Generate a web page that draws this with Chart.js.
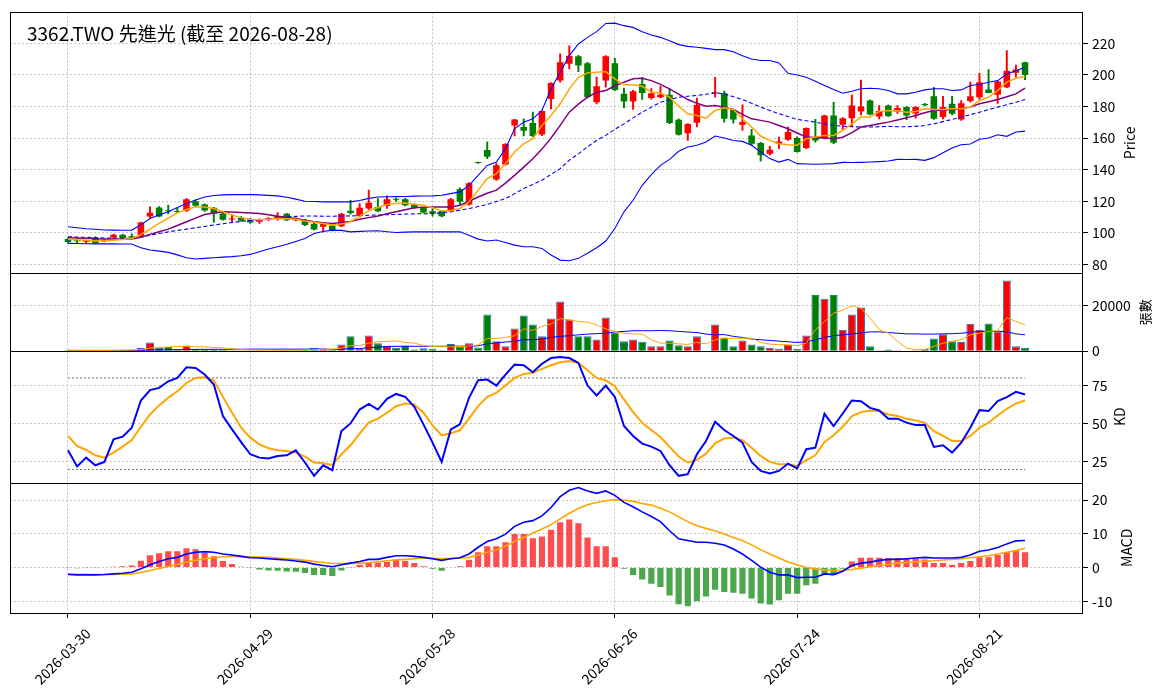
<!DOCTYPE html>
<html>
<head>
<meta charset="utf-8">
<title>3362.TWO 先進光</title>
<script src="https://cdn.jsdelivr.net/npm/chart.js@4.4.1/dist/chart.umd.min.js"></script>
<style>
  html, body { margin: 0; padding: 0; background: #fff; }
  #box { width: 1164px; height: 698px; }
</style>
</head>
<body>
<div id="box"><canvas id="kchart" width="1164" height="698"></canvas></div>
<script>
const titleText = '3362.TWO 先進光 (截至 2026-08-28)';

// trading days from 2026-03-30, skipping weekends and market holidays
const holidays = ['2026-04-03', '2026-04-06', '2026-05-01', '2026-06-19'];
const dates = [];
for (let d = new Date(Date.UTC(2026, 2, 30)); dates.length < 106; d.setUTCDate(d.getUTCDate() + 1)) {
  const s = d.toISOString().slice(0, 10);
  if (d.getUTCDay() !== 0 && d.getUTCDay() !== 6 && !holidays.includes(s)) dates.push(s);
}
const tickIdx = [0, 20, 40, 60, 80, 100];

const open = [
  96.0, 95.3, 94.3, 97.0, 94.8, 97.0, 98.7, 97.8, 97.7, 110.3,
  116.0, 114.0, 113.8, 113.9, 120.0, 117.9, 115.8, 112.2, 108.4, 109.5,
  108.6, 107.0, 108.5, 109.0, 112.0, 108.0, 108.2, 105.7, 103.8, 104.6,
  104.2, 113.9, 110.7, 115.4, 116.4, 117.0, 121.4, 121.3, 117.9, 115.8,
  113.7, 113.7, 113.7, 127.6, 117.9, 144.5, 152.4, 133.7, 143.2, 168.0,
  167.0, 169.5, 162.3, 184.8, 196.4, 207.0, 211.8, 207.4, 182.7, 196.4,
  207.4, 188.0, 183.2, 194.3, 185.3, 185.9, 187.4, 171.6, 163.0, 169.7,
  null, 188.2, 188.4, 177.9, 168.4, 161.7, 156.8, 150.1, 156.4, 158.9,
  160.0, 153.7, 160.6, 159.9, 174.3, 168.4, 172.6, 176.8, 183.8, 173.7,
  180.6, 176.8, 179.6, 175.5, 181.3, 186.5, 173.3, 181.7, 171.8, 183.4,
  185.9, 190.7, 187.4, 192.2, 201.4, 208.0
];
const high = [
  96.8, 96.2, 95.4, 97.4, 95.6, 99.2, 99.0, 99.3, 106.8, 116.5,
  116.6, 117.5, 115.5, 121.6, 120.8, 118.4, 116.2, 112.6, 111.6, 110.2,
  109.2, 108.8, 109.6, 112.8, 112.4, 109.5, 108.6, 106.0, 106.2, 105.0,
  112.3, 120.6, 118.5, 127.0, 121.7, 123.4, 122.0, 121.8, 118.3, 116.2,
  115.4, 114.2, 121.8, 128.4, 131.8, 144.8, 157.6, 144.0, 156.5, 171.9,
  172.2, 176.4, 177.3, 195.1, 213.3, 218.5, 212.4, 208.0, 198.6, 212.2,
  210.5, 191.6, 190.3, 198.5, 191.4, 193.0, 191.2, 172.2, 169.2, 185.3,
  null, 198.5, 189.7, 178.3, 181.0, 165.5, 157.3, 154.7, 160.6, 167.0,
  160.8, 166.5, 171.8, 174.6, 182.7, 173.0, 187.4, 196.8, 184.2, 180.6,
  181.0, 180.6, 180.0, 180.0, 182.0, 192.2, 186.5, 186.5, 183.8, 195.4,
  201.0, 203.4, 196.2, 215.4, 206.3, 208.2
];
const low = [
  93.6, 93.8, 93.6, 93.2, 94.2, 96.6, 96.4, 96.2, 97.5, 109.4,
  110.0, 112.0, 112.6, 113.5, 116.8, 113.6, 106.5, 108.0, 106.8, 107.2,
  106.0, 106.0, 107.6, 108.0, 107.6, 107.5, 104.5, 101.8, 100.6, 101.2,
  103.8, 111.8, 110.0, 114.8, 113.3, 115.4, 119.8, 117.0, 115.4, 112.6,
  110.5, 110.1, 113.2, 118.0, 117.5, 144.0, 147.0, 133.2, 142.8, 161.3,
  161.3, 160.8, 161.5, 178.5, 195.4, 203.8, 202.1, 185.4, 181.6, 192.2,
  190.1, 179.2, 178.1, 184.4, 184.6, 185.5, 169.1, 161.9, 158.5, 167.0,
  null, 185.9, 170.1, 169.5, 164.8, 155.4, 145.3, 149.1, 153.3, 158.5,
  151.0, 153.3, 157.4, 159.5, 156.4, 165.5, 167.2, 174.7, 174.6, 172.2,
  173.5, 175.6, 171.6, 172.6, 180.4, 171.8, 172.2, 174.7, 171.2, 182.7,
  184.4, 188.6, 182.0, 192.0, 198.5, 197.0
];
const close = [
  94.1, 94.6, 94.9, 93.4, 95.2, 98.7, 96.6, 96.9, 106.5, 112.7,
  110.3, 113.7, 113.2, 121.3, 117.1, 114.1, 112.2, 108.2, 109.0, 107.6,
  106.5, 108.2, 108.8, 110.7, 108.0, 109.1, 104.9, 102.1, 105.7, 101.5,
  112.0, 112.6, 115.8, 119.0, 113.7, 121.3, 121.0, 117.5, 115.8, 112.9,
  112.2, 110.5, 121.3, 119.6, 131.4, 144.2, 148.2, 142.7, 156.2, 171.8,
  164.6, 161.3, 177.1, 194.9, 208.0, 212.2, 205.9, 185.9, 192.8, 211.8,
  190.5, 183.2, 189.7, 188.6, 188.4, 187.4, 169.5, 162.1, 168.9, 181.0,
  null, 189.0, 172.2, 171.8, 170.1, 156.4, 149.1, 152.6, 157.9, 163.8,
  151.2, 166.3, 158.5, 174.3, 157.0, 172.6, 180.6, 180.0, 175.0, 177.1,
  173.9, 179.0, 174.3, 179.6, 181.0, 172.2, 179.6, 175.4, 182.1, 186.5,
  195.4, 188.6, 195.8, 202.7, 203.5, 200.0
];

const ma5 = [
  96.0, 95.6, 95.2, 94.8, 94.8, 95.3, 95.7, 96.4, 98.8, 102.3,
  105.9, 109.3, 112.6, 114.8, 116.4, 116.3, 115.4, 113.4, 111.2, 109.6,
  108.6, 108.2, 108.5, 109.0, 108.9, 108.5, 107.4, 106.6, 105.9, 105.0,
  105.5, 107.0, 110.6, 113.9, 116.0, 117.9, 118.5, 118.8, 118.0, 117.5,
  115.8, 113.9, 113.9, 115.4, 119.6, 127.0, 134.3, 137.5, 143.8, 151.2,
  156.4, 159.6, 168.0, 174.3, 181.7, 191.2, 198.5, 201.3, 201.7, 202.1,
  197.5, 193.7, 193.7, 192.8, 189.0, 188.6, 185.9, 180.2, 175.4, 174.3,
  172.6, 177.5, 179.2, 178.1, 172.2, 167.0, 161.3, 158.5, 156.4, 155.8,
  155.4, 159.6, 160.6, 161.7, 161.7, 164.8, 169.0, 173.3, 173.3, 176.8,
  177.5, 177.3, 176.4, 176.8, 178.5, 178.1, 178.1, 178.5, 178.5, 179.6,
  183.8, 185.9, 190.1, 195.4, 197.9, 199.0
];
const ma10 = [
  96.9, 96.7, 96.5, 96.3, 96.1, 96.0, 95.9, 96.0, 97.2, 99.0,
  100.6, 102.3, 104.6, 107.0, 109.3, 111.6, 112.5, 113.3, 113.2, 112.9,
  112.6, 112.2, 111.4, 110.5, 109.8, 109.1, 108.0, 107.0, 106.4, 105.9,
  106.5, 107.2, 108.6, 109.6, 110.7, 112.0, 113.3, 114.6, 115.8, 116.2,
  116.4, 116.4, 116.4, 117.5, 120.0, 122.7, 125.0, 127.0, 131.5, 136.4,
  141.6, 146.9, 153.0, 160.0, 168.0, 176.4, 181.5, 185.9, 189.0, 190.1,
  193.0, 195.4, 197.5, 197.9, 196.4, 194.0, 191.2, 187.8, 184.4, 182.0,
  180.2, 180.6, 179.5, 178.1, 175.0, 172.2, 171.2, 170.1, 168.0, 165.9,
  163.2, 160.6, 160.3, 160.0, 159.6, 160.5, 163.4, 167.0, 168.0, 169.0,
  170.1, 171.5, 172.8, 174.3, 176.0, 177.5, 177.8, 178.1, 178.8, 179.6,
  181.7, 183.0, 184.4, 186.2, 188.0, 191.6
];
const bbMid = [
  97.5, 97.3, 97.1, 96.9, 96.7, 96.6, 96.5, 96.4, 97.2, 98.5,
  99.5, 100.6, 101.5, 102.3, 103.2, 104.0, 104.9, 105.7, 106.5, 107.2,
  107.8, 108.2, 108.6, 109.4, 110.1, 110.4, 110.7, 110.6, 110.5, 110.5,
  110.6, 110.7, 110.9, 111.1, 111.3, 111.5, 111.6, 111.8, 112.0, 112.1,
  112.2, 112.7, 113.3, 114.3, 115.4, 116.6, 117.9, 119.8, 121.7, 124.8,
  128.0, 130.6, 133.3, 137.0, 140.6, 146.0, 150.0, 154.5, 158.5, 161.7,
  165.5, 169.0, 172.8, 176.4, 179.6, 182.7, 184.3, 185.9, 186.5, 187.0,
  187.8, 188.6, 188.0, 186.2, 184.4, 182.0, 179.6, 177.5, 175.4, 173.6,
  171.8, 171.0, 170.1, 169.0, 168.0, 167.5, 167.2, 167.0, 167.0, 167.2,
  167.4, 167.2, 167.2, 167.4, 168.0, 169.0, 170.4, 171.8, 173.3, 174.8,
  176.4, 178.0, 179.6, 181.1, 182.7, 184.4
];
const bbUp = [
  103.8, 103.2, 102.6, 102.2, 101.8, 101.7, 101.6, 101.7, 105.0, 109.0,
  111.2, 113.3, 116.0, 118.5, 120.8, 122.7, 123.6, 124.0, 124.2, 124.2,
  124.2, 124.0, 123.7, 123.4, 122.5, 121.3, 120.0, 119.8, 119.6, 119.6,
  119.6, 119.6, 120.5, 121.8, 122.7, 122.8, 122.9, 123.0, 123.2, 123.3,
  123.4, 123.8, 124.8, 125.9, 130.1, 136.4, 142.7, 144.8, 153.3, 165.9,
  170.1, 172.2, 177.5, 191.2, 201.7, 212.2, 219.6, 223.8, 227.4, 232.6,
  232.8, 231.2, 230.1, 227.4, 225.3, 223.8, 221.7, 219.2, 218.1, 217.5,
  216.8, 216.0, 216.0, 214.7, 212.2, 210.1, 209.1, 209.1, 207.6, 201.0,
  200.0, 198.5, 196.0, 193.3, 190.7, 188.4, 189.7, 191.2, 191.6, 191.2,
  190.1, 188.0, 188.0, 189.0, 190.5, 191.2, 191.2, 190.1, 190.5, 193.3,
  193.9, 195.4, 196.4, 200.6, 202.7, 204.8
];
const bbLow = [
  93.3, 93.2, 93.1, 93.0, 93.0, 93.0, 92.9, 92.9, 90.5, 89.1,
  88.4, 87.6, 86.0, 84.2, 83.4, 83.8, 84.2, 84.6, 84.9, 85.5,
  86.3, 88.0, 89.7, 91.2, 92.7, 94.5, 96.4, 99.6, 100.8, 101.7,
  101.5, 100.6, 100.9, 101.1, 101.3, 100.7, 100.2, 100.4, 100.6, 100.6,
  100.6, 100.6, 100.6, 100.6, 98.5, 96.0, 94.8, 95.4, 93.9, 92.2,
  91.2, 91.2, 90.1, 85.9, 82.7, 82.3, 83.8, 87.0, 90.5, 94.8,
  102.7, 113.3, 120.6, 130.1, 136.8, 142.7, 146.5, 151.6, 154.3, 155.4,
  157.5, 161.3, 160.0, 158.5, 157.9, 155.4, 151.2, 147.0, 144.8, 146.5,
  143.8, 143.6, 143.4, 143.6, 143.8, 144.6, 144.5, 144.6, 144.8, 145.1,
  145.5, 146.5, 146.4, 146.5, 145.9, 147.6, 150.7, 153.7, 155.8, 156.2,
  159.2, 160.0, 162.1, 161.1, 163.8, 164.4
];

// 張數
const volume = [
  300, 250, 200, 350, 250, 400, 500, 600, 1300, 3800,
  1300, 1800, 600, 2500, 900, 800, 700, 500, 400, 350,
  300, 300, 250, 400, 500, 300, 600, 1500, 900, 600,
  2900, 6500, 900, 6900, 3400, 2400, 1500, 2500, 700, 1200,
  900, 400, 3100, 1900, 3400, 1600, 16200, 4300, 2100, 10000,
  15700, 11800, 6600, 14400, 21900, 14000, 6500, 6500, 5100, 14800,
  8200, 4300, 5100, 4100, 2100, 2100, 4700, 2600, 2100, 6500,
  0, 11800, 6000, 2100, 4700, 2900, 2100, 1500, 1000, 2800,
  1000, 6900, 24800, 23200, 24800, 9400, 16200, 19300, 2100, 300,
  700, 300, 150, 300, 1000, 5600, 7400, 4300, 4000, 12100,
  9400, 12200, 8700, 31200, 2100, 1500
];
const volMa5 = [
  300, 280, 270, 280, 270, 290, 340, 420, 640, 1300,
  1500, 1800, 2000, 2000, 1900, 1900, 1600, 1400, 1000, 700,
  500, 400, 350, 330, 350, 350, 420, 650, 760, 800,
  1300, 2400, 2400, 3500, 4100, 4300, 4500, 3800, 3500, 2500,
  2000, 1900, 1900, 2000, 2200, 2700, 5600, 5600, 6000, 6800,
  9800, 9100, 10900, 12000, 14400, 13800, 13100, 12800, 11600, 9800,
  8700, 7900, 7600, 7500, 5000, 3500, 3500, 3200, 2900, 3800,
  3200, 5000, 5600, 5600, 5700, 5700, 3800, 3100, 2800, 2800,
  2400, 3500, 9400, 13100, 16800, 18200, 20000, 19000, 14600, 9400,
  7900, 4300, 1300, 600, 700, 2100, 3500, 4300, 5000, 7200,
  7900, 8700, 9100, 14800, 13100, 11600
];
const volMa20 = [
  300, 300, 300, 300, 300, 300, 300, 320, 350, 450,
  500, 600, 620, 700, 720, 750, 770, 780, 790, 800,
  850, 850, 850, 850, 850, 850, 850, 900, 900, 750,
  800, 1100, 1100, 1500, 1700, 2000, 2100, 2100, 2100, 2100,
  2100, 2100, 2150, 2150, 2200, 2300, 3200, 3600, 4000, 4300,
  5000, 5000, 5300, 6000, 6500, 6800, 7200, 7500, 7700, 7900,
  8500, 8700, 9000, 9000, 9000, 9100, 9000, 8700, 8400, 8200,
  7500, 7200, 7300, 6500, 6000, 5300, 5000, 4700, 4400, 4100,
  3800, 4100, 5000, 6000, 6800, 7200, 7600, 8000, 8500, 8500,
  8200, 7900, 7600, 7600, 7500, 7500, 7600, 7700, 7900, 8300,
  8700, 8700, 8800, 8500, 7600, 7200
];

const kVals = [
  32.6, 22.0, 27.8, 22.8, 25.0, 39.8, 41.5, 47.4, 65.2, 72.0,
  73.5, 77.8, 80.0, 87.0, 86.5, 82.2, 75.7, 55.0, 46.3, 38.0,
  30.0, 27.8, 27.2, 28.9, 29.3, 32.6, 24.6, 15.9, 22.8, 19.6,
  45.2, 50.2, 59.3, 63.0, 59.3, 66.3, 69.5, 67.6, 61.1, 49.6,
  37.6, 25.0, 46.3, 49.6, 67.0, 78.5, 78.9, 75.0, 82.2, 88.7,
  88.3, 83.7, 89.3, 93.0, 93.7, 93.0, 89.8, 75.0, 68.5, 75.0,
  67.6, 48.5, 42.0, 37.0, 35.0, 32.2, 22.8, 15.9, 17.0, 30.0,
  38.7, 51.3, 45.9, 42.0, 37.6, 25.0, 19.1, 17.4, 19.1, 23.9,
  20.7, 33.3, 34.3, 56.5, 48.5, 56.7, 65.2, 64.8, 60.4, 58.7,
  53.3, 53.3, 50.7, 49.1, 49.1, 34.8, 35.9, 31.1, 37.6, 47.4,
  58.9, 58.3, 64.8, 67.4, 70.9, 69.1
];
const dVals = [
  42.0, 35.4, 32.8, 29.3, 27.8, 31.1, 35.0, 39.3, 48.0, 56.1,
  62.0, 67.0, 71.3, 76.7, 80.0, 80.4, 78.5, 67.6, 57.2, 47.4,
  40.9, 36.5, 33.9, 32.6, 32.2, 31.1, 28.5, 24.6, 24.1, 23.0,
  30.0, 35.9, 43.5, 50.7, 53.3, 57.2, 61.5, 63.3, 62.6, 57.2,
  48.9, 42.4, 43.7, 45.7, 53.5, 61.5, 67.6, 70.2, 75.0, 80.0,
  82.6, 83.3, 85.9, 88.3, 90.2, 91.1, 89.8, 85.0, 80.0, 78.3,
  74.6, 65.9, 57.6, 50.7, 45.9, 41.3, 34.8, 28.5, 24.6, 26.3,
  30.4, 37.2, 40.4, 40.9, 39.3, 34.3, 28.9, 25.0, 23.5, 23.5,
  22.4, 26.1, 29.3, 38.0, 42.4, 48.0, 55.0, 57.6, 58.7, 58.3,
  56.1, 55.0, 53.3, 52.2, 50.7, 45.2, 42.0, 38.7, 38.7, 42.0,
  47.4, 50.7, 55.4, 59.8, 63.3, 65.2
];
const kdLevels = [80, 20];

const difVals = [
  -2.1, -2.2, -2.2, -2.2, -2.1, -1.9, -1.7, -1.4, -0.4, 0.8,
  1.8, 2.6, 3.0, 4.0, 4.5, 4.7, 4.5, 4.0, 3.7, 3.3,
  2.9, 2.8, 2.6, 2.4, 2.2, 1.9, 1.6, 1.0, 0.6, 0.2,
  0.8, 1.3, 1.8, 2.4, 2.4, 3.0, 3.5, 3.5, 3.3, 3.0,
  2.6, 2.1, 2.6, 2.9, 4.0, 6.0, 7.7, 8.5, 9.9, 12.2,
  13.4, 13.9, 15.3, 17.8, 21.0, 22.9, 23.7, 22.7, 22.0, 22.7,
  21.4, 19.3, 18.0, 16.5, 15.1, 13.6, 10.9, 8.5, 8.0, 7.5,
  7.5, 7.2, 6.7, 5.5, 4.0, 2.1, 0.1, -1.4, -2.2, -2.2,
  -3.0, -2.9, -2.9, -1.9, -2.1, -1.1, 0.6, 1.3, 1.6, 2.1,
  2.4, 2.4, 2.6, 2.8, 3.0, 2.8, 2.8, 2.8, 3.0, 3.7,
  4.8, 5.2, 5.9, 7.0, 7.9, 8.0
];
const deaVals = [
  -1.9, -2.0, -2.0, -2.1, -2.1, -2.1, -2.0, -1.9, -1.5, -0.9,
  -0.3, 0.3, 0.9, 1.6, 2.1, 2.6, 2.9, 3.2, 3.3, 3.3,
  3.2, 3.1, 3.0, 2.8, 2.6, 2.4, 2.1, 1.8, 1.5, 1.2,
  1.2, 1.2, 1.3, 1.4, 1.7, 2.0, 2.2, 2.4, 2.6, 2.8,
  2.7, 2.6, 2.7, 2.8, 3.0, 3.7, 4.5, 5.2, 6.3, 7.7,
  8.9, 10.2, 11.4, 12.7, 14.4, 16.1, 17.5, 18.6, 19.3, 19.8,
  20.1, 20.0, 19.6, 19.0, 18.5, 17.6, 16.5, 15.0, 13.6, 12.4,
  11.6, 10.8, 9.9, 8.9, 8.0, 6.7, 5.3, 4.0, 2.8, 1.6,
  0.8, 0.0, -0.4, -0.7, -0.9, -0.9, -0.6, -0.2, 0.2, 0.6,
  0.9, 1.3, 1.5, 1.7, 1.9, 2.0, 2.2, 2.4, 2.6, 2.9,
  3.2, 3.5, 4.0, 4.5, 5.0, 5.7
];
const histVals = [
  -0.1, -0.2, -0.1, -0.1, 0.0, 0.2, 0.4, 0.6, 2.0, 3.6,
  4.2, 4.8, 4.8, 5.7, 5.4, 4.3, 3.3, 1.9, 1.0, 0.2,
  -0.1, -0.6, -0.9, -1.0, -1.2, -1.3, -1.6, -2.2, -2.2, -2.5,
  -0.9, 0.1, 0.8, 1.3, 1.4, 1.6, 2.4, 1.9, 1.3, 0.4,
  -0.4, -1.0, 0.0, 0.4, 2.3, 4.5, 6.3, 6.3, 7.5, 9.9,
  9.9, 8.7, 9.2, 11.2, 13.4, 14.2, 13.1, 8.9, 6.3, 6.3,
  3.0, -0.4, -2.2, -3.6, -4.8, -5.8, -8.3, -10.9, -11.5, -10.0,
  -8.6, -6.6, -7.3, -7.5, -7.8, -9.2, -10.7, -11.0, -9.7, -7.8,
  -7.8, -5.3, -4.8, -1.9, -2.2, -0.4, 1.8, 2.9, 2.9, 2.9,
  2.8, 2.8, 2.6, 2.6, 2.4, 1.3, 1.3, 0.8, 1.3, 1.9,
  3.0, 3.0, 3.7, 4.5, 5.2, 4.5
];

const FONT = '"Noto Sans CJK TC", "Noto Sans", sans-serif';
const RED = '#ff0000', GREEN = '#008000';
Chart.defaults.font.family = FONT;
Chart.defaults.font.size = 14;
Chart.defaults.color = '#000';

const pts = arr => arr.map((v, i) => ({x: i, y: v}));
const live = dates.map((d, i) => i).filter(i => open[i] !== null);
const isUp = i => close[i] >= open[i];
const candleColor = live.map(i => isUp(i) ? RED : GREEN);

function line(data, axis, color, width, extra) {
  return Object.assign({
    type: 'line', data: data, yAxisID: axis, borderColor: color, borderWidth: width,
    pointRadius: 0, fill: false, tension: 0, order: 1
  }, extra || {});
}

function yAxis(weight, min, max, ticks) {
  return {
    type: 'linear', position: 'right', stack: 'panels', stackWeight: weight,
    min: min, max: max, beginAtZero: false,
    afterBuildTicks: s => { s.ticks = ticks.map(v => ({value: v})); },
    afterFit: s => { s.width = 81; },
    ticks: {padding: 4, font: {size: 14}, callback: v => String(v)},
    grid: {color: '#b8b8b8', lineWidth: 0.8, tickLength: 5, tickColor: '#000', tickWidth: 1, tickBorderDash: []},
    border: {display: false, dash: [2, 2]}
  };
}

const decor = {
  id: 'decor',
  afterDatasetsDraw(chart) {
    const {ctx, chartArea: a, scales: s} = chart;
    ctx.save();
    ctx.strokeStyle = '#000';
    ctx.lineWidth = 1;
    ['y', 'yv', 'ykd', 'ym'].forEach(id => {
      const top = Math.round(s[id].top), bottom = Math.round(s[id].bottom);
      ctx.strokeRect(Math.round(a.left) + 0.5, top + 0.5, Math.round(a.right - a.left) - 1, bottom - top);
    });
    ctx.fillStyle = '#000';
    ctx.textBaseline = 'middle';
    ctx.font = '19px ' + FONT;
    ctx.fillText(titleText, a.left + 17, a.top + 21);
    ctx.restore();
  },
  afterDraw(chart) {
    const {ctx, chartArea: a, scales: s} = chart;
    const names = [['y', 'Price', 47, 14], ['yv', '張數', 62, 13], ['ykd', 'KD', 37, 14], ['ym', 'MACD', 44, 14]];
    ctx.save();
    ctx.fillStyle = '#000';
    ctx.textAlign = 'center';
    ctx.textBaseline = 'middle';
    names.forEach(([id, txt, dx, size]) => {
      ctx.save();
      ctx.translate(a.right + dx, (s[id].top + s[id].bottom) / 2);
      ctx.rotate(-Math.PI / 2);
      ctx.font = size + 'px ' + FONT;
      ctx.fillText(txt, 0, 0);
      ctx.restore();
    });
    ctx.restore();
  }
};

new Chart(document.getElementById('kchart'), {
  type: 'bar',
  data: {
    datasets: [
      // price panel
      line(pts(ma5), 'y', 'orange', 1.5),
      line(pts(ma10), 'y', 'purple', 1.5),
      line(pts(bbUp), 'y', 'blue', 1.1),
      line(pts(bbMid), 'y', 'blue', 1.1, {borderDash: [4, 2.5]}),
      line(pts(bbLow), 'y', 'blue', 1.1),
      {
        type: 'bar', yAxisID: 'y', order: 2, grouped: false,
        data: live.map(i => ({x: i, y: [Math.min(open[i], close[i]), Math.max(open[i], close[i])]})),
        backgroundColor: candleColor, borderWidth: 0, minBarLength: 1,
        barPercentage: 0.72, categoryPercentage: 1
      },
      {
        type: 'bar', yAxisID: 'y', order: 3, grouped: false,
        data: live.map(i => ({x: i, y: [low[i], high[i]]})),
        backgroundColor: candleColor, borderWidth: 0, barThickness: 1.3
      },
      // volume panel
      line(pts(volMa5), 'yv', 'orange', 1),
      line(pts(volMa20), 'yv', 'blue', 1),
      {
        type: 'bar', yAxisID: 'yv', order: 3, grouped: false,
        data: live.map(i => ({x: i, y: volume[i]})),
        backgroundColor: candleColor, borderColor: '#1f77b4', borderWidth: 1,
        barPercentage: 0.88, categoryPercentage: 1
      },
      // KD panel
      line(pts(kVals), 'ykd', 'blue', 2),
      line(pts(dVals), 'ykd', 'orange', 2),
      ...kdLevels.map(v => line([{x: 0, y: v}, {x: dates.length - 1, y: v}], 'ykd', '#666', 0.9, {borderDash: [2, 2], order: 4})),
      // MACD panel
      line(pts(difVals), 'ym', 'blue', 1.6),
      line(pts(deaVals), 'ym', 'orange', 1.6),
      {
        type: 'bar', yAxisID: 'ym', order: 3, grouped: false,
        data: pts(histVals),
        backgroundColor: histVals.map(v => v >= 0 ? 'rgba(255,0,0,0.7)' : 'rgba(0,128,0,0.7)'),
        borderWidth: 0, barPercentage: 0.68, categoryPercentage: 1
      }
    ]
  },
  options: {
    responsive: false,
    animation: false,
    devicePixelRatio: 1,
    events: [],
    layout: {padding: {left: 10, top: 10, right: 0, bottom: 0}},
    plugins: {legend: {display: false}, tooltip: {enabled: false}},
    scales: {
      x: {
        type: 'linear', min: -6.36, max: 111.36, offset: false,
        afterBuildTicks: s => { s.ticks = tickIdx.map(v => ({value: v})); },
        afterFit: s => { s.height = 85; },
        ticks: {
          callback: v => dates[v] || '', autoSkip: false,
          minRotation: 45, maxRotation: 45, padding: 7, labelOffset: 20, font: {size: 14}
        },
        grid: {offset: false, color: '#b8b8b8', lineWidth: 0.8, tickLength: 5, tickColor: '#000', tickWidth: 1, tickBorderDash: []},
        border: {display: false, dash: [2, 2]}
      },
      y: yAxis(262, 74.3, 239.6, [80, 100, 120, 140, 160, 180, 200, 220]),
      yv: yAxis(78, 0, 34400, [0, 20000]),
      ykd: yAxis(132, 11.5, 97.6, [25, 50, 75]),
      ym: yAxis(131, -13.5, 25.2, [-10, 0, 10, 20])
    }
  },
  plugins: [decor]
});
</script>
</body>
</html>
